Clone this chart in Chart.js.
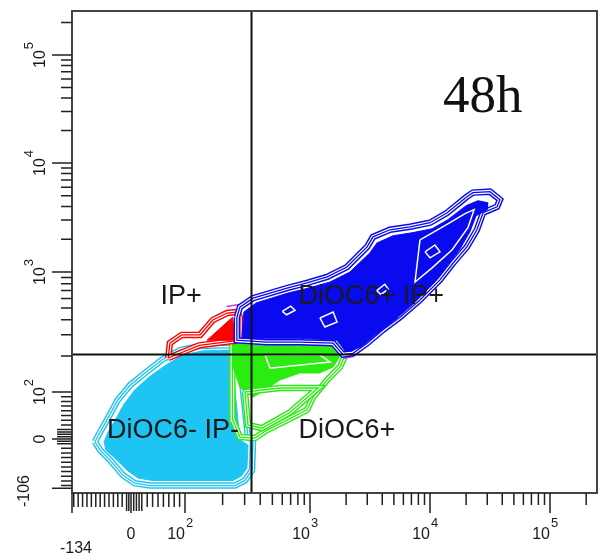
<!DOCTYPE html>
<html>
<head>
<meta charset="utf-8">
<script src="https://cdn.jsdelivr.net/npm/chart.js@4.4.1/dist/chart.umd.min.js"></script>
<style>
  html, body { margin: 0; padding: 0; background: #fff; }
</style>
</head>
<body>
<canvas id="plot" width="600" height="555"></canvas>
<script>
// DiOC6 (x) vs IP (y) contour plot, values in fluorescence units

var GATE_X = 337;   // DiOC6 quadrant threshold
var GATE_Y = 207;   // IP quadrant threshold

var X_TICKS = [-134, 0, 100, 1000, 10000, 100000];
var X_TICK_LABELS = [['-134', ''], ['0', ''], ['10', '2'], ['10', '3'], ['10', '4'], ['10', '5']];
var Y_TICKS = [-106, 0, 100, 1000, 10000, 100000];
var Y_TICK_LABELS = [['-106', ''], ['0', ''], ['10', '2'], ['10', '3'], ['10', '4'], ['10', '5']];

var QUADRANT_LABELS = ['IP+', 'DiOC6+ IP+', 'DiOC6- IP-', 'DiOC6+'];
var TIME_LABEL = '48h';

// DiOC6- IP- population
var NEG_OUTER = [[-82, -6], [-70, 15], [-52, 45], [-30, 83], [-2, 114], [26, 144], [57, 185], [91, 224],
  [132, 242], [242, 246], [265, 224], [291, 104], [319, 4], [350, -2], [344, -67], [302, -89], [251, -100],
  [35, -100], [7, -95], [-18, -78], [-48, -45], [-70, -24]];
var NEG_CORE = [[-61, -6], [-52, 15], [-36, 40], [-16, 74], [7, 104], [33, 133], [65, 168], [96, 203],
  [137, 220], [238, 224], [251, 104], [275, -2], [319, -13], [313, -63], [281, -80], [242, -89], [39, -89],
  [13, -84], [-9, -67], [-39, -39], [-57, -24]];

// DiOC6+ population
var DIOC6_OUTER = [[242, 256], [1780, 256], [2000, 211], [1780, 162], [1390, 126], [1060, 89], [946, 62],
  [655, 40], [453, 19], [363, 2], [275, 4], [242, 40], [238, 126], [238, 211]];
var DIOC6_CORE = [[242, 256], [1680, 256], [1850, 211], [1560, 162], [1210, 144], [830, 144], [575, 126],
  [400, 98], [350, 89], [275, 110], [242, 162]];
var DIOC6_INNER = [[302, 100], [319, 30], [413, 23], [692, 57], [1170, 108], [575, 108]];
var DIOC6_GAP = [[437, 203], [1210, 203], [1470, 178], [479, 158]];

// IP+ population
var IP_OUTER = [[69, 192], [72, 256], [94, 299], [132, 299], [167, 398], [217, 455], [261, 464],
  [275, 420], [275, 270], [130, 245]];
var IP_CORE = [[150, 270], [240, 420], [252, 270]];

// outermost level, visible only in two places
var EDGE_UPPER = [[215, 515], [255, 530], [315, 540]];
var EDGE_LOWER = [[1880, 190], [2280, 197], [2460, 210]];

// DiOC6+ IP+ population
var DOUBLE_OUTER = [[260, 420], [275, 510], [350, 605], [655, 735], [945, 810], [1390, 910], [2030, 1110],
  [2990, 1700], [3350, 2100], [4640, 2440], [6810, 2600], [10000, 2830], [13900, 3500], [20300, 4910],
  [22800, 5350], [31600, 5460], [38300, 4610], [36200, 3970], [27700, 3500], [24600, 2440], [20300, 1700],
  [15600, 1210], [12100, 860], [8250, 585], [5620, 420], [4060, 330], [2990, 255], [2280, 210], [1880, 205],
  [1560, 255], [830, 260], [450, 260], [260, 270]];
var DOUBLE_CORE = [[286, 299], [296, 464], [370, 552], [667, 668], [982, 736], [1470, 826], [2150, 1000],
  [3160, 1500], [3620, 1850], [4920, 2150], [7080, 2290], [10400, 2490], [14100, 3020], [20000, 4060],
  [25100, 4510], [30400, 4320], [29900, 3730], [24200, 3280], [21500, 2340], [17800, 1630], [13900, 1140],
  [10800, 810], [7360, 550], [5110, 400], [3690, 310], [2710, 240], [2200, 220], [1960, 220], [1680, 270],
  [830, 280], [450, 280], [286, 280]];
var DOUBLE_GAP_A = [[1210, 414], [1560, 464], [1680, 383], [1330, 348]];
var DOUBLE_GAP_B = [[9090, 1530], [11000, 1770], [12100, 1530], [10000, 1350]];
var DOUBLE_GAP_C = [[600, 470], [700, 520], [760, 480], [650, 440]];
var DOUBLE_GAP_D = [[3600, 700], [4200, 790], [4500, 720], [3900, 650]];
var DOUBLE_GAP_E = [[8250, 1970], [13300, 2660], [19600, 3430], [23300, 3730], [20700, 2550], [15300, 1600],
  [10400, 1090], [7500, 826]];

// biexponential-style axis: linear around zero, logarithmic above 100
class BiexScale extends Chart.LinearScale {
  determineDataLimits() {
    var b = this.options.breaks;
    this.min = b[0];
    this.max = b[b.length - 1];
  }
  buildTicks() {
    return this.options.breaks.map(function (v) { return { value: v }; });
  }
  configure() {
    super.configure();
    this._units = this.options.spans.reduce(function (a, c) { return a + c; }, 0);
  }
  toUnit(v) {
    var b = this.options.breaks, s = this.options.spans, acc = 0;
    for (var i = 0; i < s.length; i++) {
      var lo = b[i], hi = b[i + 1];
      if (v <= hi || i === s.length - 1) {
        var f = lo > 0 ? Math.log10(v / lo) / Math.log10(hi / lo) : (v - lo) / (hi - lo);
        return acc + f * s[i];
      }
      acc += s[i];
    }
  }
  fromUnit(u) {
    var b = this.options.breaks, s = this.options.spans, acc = 0;
    for (var i = 0; i < s.length; i++) {
      if (u <= acc + s[i] || i === s.length - 1) {
        var f = (u - acc) / s[i], lo = b[i], hi = b[i + 1];
        return lo > 0 ? lo * Math.pow(hi / lo, f) : lo + f * (hi - lo);
      }
      acc += s[i];
    }
  }
  getPixelForValue(v) {
    return this.getPixelForDecimal(this.toUnit(v) / this._units);
  }
  getValueForPixel(p) {
    return this.fromUnit(this.getDecimalForPixel(p) * this._units);
  }
}
BiexScale.id = 'biex';
BiexScale.defaults = {};
Chart.register(BiexScale);

var CYAN = '#1ec4f2';
var GREEN = '#2bec10';
var RED = '#ff0000';
var BLUE = '#0a0af0';
var MAGENTA = '#c93cf0';

function closed(pts) {
  return pts.concat([pts[0]]);
}

// contour rings: a colored band split by a white gap
function rings(pts, color, order) {
  var d = closed(pts);
  return [
    { data: d, borderColor: color, borderWidth: 6.5, order: order + 0.2 },
    { data: d, borderColor: '#ffffff', borderWidth: 3.6, order: order + 0.1 },
    { data: d, borderColor: color, borderWidth: 1.3, order: order }
  ];
}

function solid(pts, color, order) {
  return { data: closed(pts), borderColor: color, backgroundColor: color, borderWidth: 1, fill: 'shape', order: order };
}

function stroke(pts, color, width, order, close) {
  return { data: close ? closed(pts) : pts, borderColor: color, borderWidth: width, order: order };
}

var datasets = [].concat(
  rings(NEG_OUTER, CYAN, 90),
  [solid(NEG_CORE, CYAN, 80)],
  rings(DIOC6_OUTER, GREEN, 70),
  [solid(DIOC6_CORE, GREEN, 60)],
  rings(DIOC6_INNER, GREEN, 57),
  [stroke(DIOC6_GAP, '#ffffff', 1.5, 56, true)],
  rings(IP_OUTER, RED, 53),
  [solid(IP_CORE, RED, 50)],
  [stroke(EDGE_UPPER, MAGENTA, 1.5, 48), stroke(EDGE_LOWER, MAGENTA, 1.5, 48)],
  rings(DOUBLE_OUTER, BLUE, 40),
  [solid(DOUBLE_CORE, BLUE, 30)],
  [DOUBLE_GAP_A, DOUBLE_GAP_B, DOUBLE_GAP_C, DOUBLE_GAP_D, DOUBLE_GAP_E].map(function (g) {
    return stroke(g, '#ffffff', 1.5, 20, true);
  })
);
datasets.forEach(function (ds) {
  ds.showLine = true;
  ds.pointRadius = 0;
  ds.pointHoverRadius = 0;
  ds.tension = 0;
  if (!ds.fill) ds.fill = false;
});

var LABEL_FONT = '16px "Liberation Sans", Arial, sans-serif';
var SUP_FONT = '13px "Liberation Sans", Arial, sans-serif';

var flowAxes = {
  id: 'flowAxes',
  afterDatasetsDraw: function (chart) {
    var ctx = chart.ctx, a = chart.chartArea;
    var xs = chart.scales.x, ys = chart.scales.y;
    var v, i, k;

    ctx.save();
    ctx.lineCap = 'butt';

    // quadrant gate
    var gx = Math.round(xs.getPixelForValue(GATE_X)) + 0.5;
    var gy = Math.round(ys.getPixelForValue(GATE_Y)) + 0.5;
    ctx.strokeStyle = '#111';
    ctx.lineWidth = 2;
    ctx.beginPath();
    ctx.moveTo(gx, a.top); ctx.lineTo(gx, a.bottom);
    ctx.moveTo(a.left, gy); ctx.lineTo(a.right, gy);
    ctx.stroke();

    // frame
    ctx.strokeStyle = '#444';
    ctx.lineWidth = 2;
    ctx.strokeRect(a.left, a.top, a.right - a.left, a.bottom - a.top);

    // tick marks
    var logMinor = [];
    [100, 1000, 10000].forEach(function (d) {
      for (k = 2; k <= 9; k++) logMinor.push(k * d);
    });
    logMinor.push(200000);
    var zeroCluster = [-10, -5, 5, 10, 15, 20];

    function xTick(val, len) {
      var p = xs.getPixelForValue(val);
      ctx.moveTo(p, a.bottom); ctx.lineTo(p, a.bottom + len);
    }
    function yTick(val, len) {
      var p = ys.getPixelForValue(val);
      ctx.moveTo(a.left, p); ctx.lineTo(a.left - len, p);
    }

    ctx.strokeStyle = '#222';
    ctx.lineWidth = 1.5;
    ctx.beginPath();
    X_TICKS.forEach(function (t) { xTick(t, 20); });
    Y_TICKS.forEach(function (t) { yTick(t, 20); });
    logMinor.forEach(function (t) { xTick(t, 12); yTick(t, 11); });
    zeroCluster.forEach(function (t) { xTick(t, 18); yTick(t, 15); });
    for (v = -130; v < 100; v += 10) {
      if (v === 0 || zeroCluster.indexOf(v) >= 0) continue;
      xTick(v, 14);
      if (v > -106) yTick(v, 11);
    }
    ctx.stroke();

    // x tick labels
    ctx.fillStyle = '#1a1a1a';
    ctx.textBaseline = 'alphabetic';
    var xBase = a.bottom + 46;
    for (i = 0; i < X_TICKS.length; i++) {
      var px = xs.getPixelForValue(X_TICKS[i]);
      var lab = X_TICK_LABELS[i];
      ctx.font = LABEL_FONT;
      if (lab[1]) {
        ctx.textAlign = 'right';
        ctx.fillText(lab[0], px, xBase);
        ctx.font = SUP_FONT;
        ctx.textAlign = 'left';
        ctx.fillText(lab[1], px + 1, xBase - 12);
      } else if (i === 0) {
        ctx.textAlign = 'center';
        ctx.fillText(lab[0], px + 4, xBase + 14);
      } else {
        ctx.textAlign = 'center';
        ctx.fillText(lab[0], px, xBase);
      }
    }

    // y tick labels, written bottom to top
    for (i = 0; i < Y_TICKS.length; i++) {
      var py = ys.getPixelForValue(Y_TICKS[i]);
      var yl = Y_TICK_LABELS[i];
      var bx = i === 0 ? a.left - 43 : a.left - 27;
      if (i === 0) py = a.bottom - 2;
      ctx.save();
      ctx.translate(bx, py);
      ctx.rotate(-Math.PI / 2);
      ctx.textAlign = 'left';
      ctx.font = LABEL_FONT;
      var wb = ctx.measureText(yl[0]).width;
      ctx.font = SUP_FONT;
      var ws = yl[1] ? ctx.measureText(yl[1]).width + 1 : 0;
      var start = -(wb + ws) / 2;
      ctx.font = LABEL_FONT;
      ctx.fillText(yl[0], start, 0);
      if (yl[1]) {
        ctx.font = SUP_FONT;
        ctx.fillText(yl[1], start + wb + 1, -12);
      }
      ctx.restore();
    }

    // quadrant names
    ctx.font = '27px "Liberation Sans", Arial, sans-serif';
    ctx.fillStyle = '#1a1a1a';
    ctx.textAlign = 'left';
    ctx.fillText(QUADRANT_LABELS[0], gx - 91, gy - 51);
    ctx.fillText(QUADRANT_LABELS[1], gx + 47, gy - 51);
    ctx.fillText(QUADRANT_LABELS[2], a.left + 35, gy + 83);
    ctx.fillText(QUADRANT_LABELS[3], gx + 47, gy + 83);

    ctx.font = '53px "Liberation Serif", "Times New Roman", serif';
    ctx.fillStyle = '#111';
    ctx.fillText(TIME_LABEL, a.left + 371, a.top + 101);

    ctx.restore();
  }
};

new Chart(document.getElementById('plot').getContext('2d'), {
  type: 'scatter',
  data: { datasets: datasets },
  options: {
    responsive: false,
    animation: false,
    events: [],
    layout: { padding: { left: 72, top: 11, right: 3, bottom: 62 } },
    plugins: { legend: { display: false }, tooltip: { enabled: false } },
    scales: {
      x: {
        type: 'biex',
        display: false,
        breaks: [-134, 0, 100, 1000, 10000, 100000, 246000],
        spans: [59, 54, 125, 120, 120, 47]
      },
      y: {
        type: 'biex',
        display: false,
        breaks: [-116, 0, 100, 1000, 10000, 100000, 255000],
        spans: [54, 47, 120, 109, 108, 44]
      }
    }
  },
  plugins: [flowAxes]
});
</script>
</body>
</html>
